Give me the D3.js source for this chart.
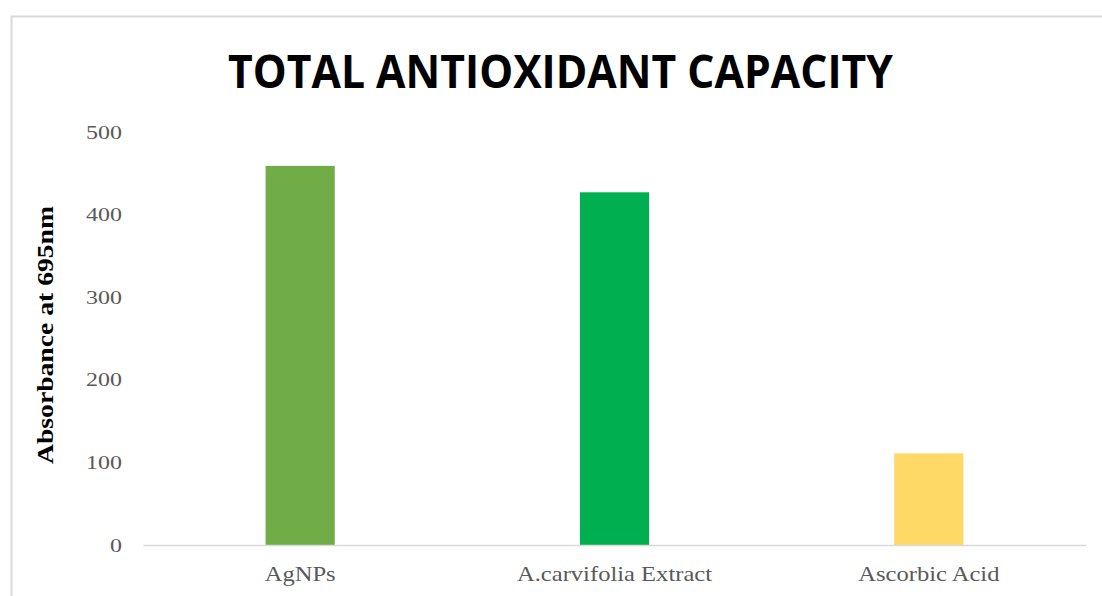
<!DOCTYPE html>
<html>
<head>
<meta charset="utf-8">
<script src="https://cdn.jsdelivr.net/npm/d3@7/dist/d3.min.js"></script>
<style>
  html, body { margin: 0; padding: 0; background: #fff; }
  svg { display: block; }
</style>
</head>
<body>
<svg id="chart" width="1102" height="596"></svg>
<script>
// Chart data
const categories = ["AgNPs", "A.carvifolia Extract", "Ascorbic Acid"];
const values = [459, 427, 111];
const barColors = ["#70AD47", "#00B050", "#FFD966"];
const yTicks = [0, 100, 200, 300, 400, 500];
const titleText = "TOTAL ANTIOXIDANT CAPACITY";
const yLabelText = "Absorbance at 695nm";

const svg = d3.select("#chart");
const serif = "'Liberation Serif', 'Times New Roman', serif";

// Outer chart frame (top and left edges visible, the rest runs off the page)
svg.append("rect")
  .attr("x", 11.5).attr("y", 16.5)
  .attr("width", 1102).attr("height", 600)
  .attr("fill", "none")
  .attr("stroke", "#d9d9d9")
  .attr("stroke-width", 2);

const plot = { left: 143, right: 1086, top: 132, bottom: 545 };

const x = d3.scaleBand()
  .domain(categories)
  .range([plot.left, plot.right])
  .paddingInner(0.78)
  .paddingOuter(0.39);

const y = d3.scaleLinear()
  .domain([0, 500])
  .range([plot.bottom, plot.top]);

// Title
svg.append("text")
  .attr("x", 560.5).attr("y", 88)
  .attr("text-anchor", "middle")
  .attr("font-family", "'Open Sans', 'Liberation Sans', sans-serif")
  .attr("font-weight", "bold")
  .attr("font-size", 47)
  .attr("textLength", 665)
  .attr("lengthAdjust", "spacingAndGlyphs")
  .attr("fill", "#000")
  .text(titleText);

// Bars
svg.append("g").selectAll("rect")
  .data(categories)
  .join("rect")
  .attr("x", d => x(d))
  .attr("width", x.bandwidth())
  .attr("y", (d, i) => y(values[i]))
  .attr("height", (d, i) => y(0) - y(values[i]))
  .attr("fill", (d, i) => barColors[i]);

// Labels here are set slightly wide, so each one is stretched to its measured width
function widen(sel, factor) {
  sel.each(function () {
    const w = this.getComputedTextLength();
    d3.select(this)
      .attr("textLength", w * factor)
      .attr("lengthAdjust", "spacingAndGlyphs");
  });
}

// Y axis: labels only, no axis line
const yAxis = svg.append("g")
  .attr("transform", `translate(${plot.left},0)`)
  .call(d3.axisLeft(y).tickValues(yTicks).tickSize(0).tickPadding(21));
yAxis.select(".domain").remove();
yAxis.selectAll("text")
  .attr("font-family", serif)
  .attr("font-size", 19)
  .attr("fill", "#595959")
  .call(widen, 1.26);

// X axis baseline and category labels
const xAxis = svg.append("g")
  .attr("transform", `translate(0,${plot.bottom})`)
  .call(d3.axisBottom(x).tickSize(0).tickPadding(21));
xAxis.select(".domain")
  .attr("stroke", "#d9d9d9")
  .attr("stroke-width", 1.5);
xAxis.selectAll("text")
  .attr("font-family", serif)
  .attr("font-size", 21)
  .attr("fill", "#595959")
  .call(widen, 1.17);

// Y axis title
svg.append("text")
  .attr("transform", "translate(53,335) rotate(-90)")
  .attr("text-anchor", "middle")
  .attr("font-family", serif)
  .attr("font-weight", "bold")
  .attr("font-size", 24)
  .attr("textLength", 258)
  .attr("lengthAdjust", "spacingAndGlyphs")
  .attr("fill", "#000")
  .text(yLabelText);
</script>
</body>
</html>
